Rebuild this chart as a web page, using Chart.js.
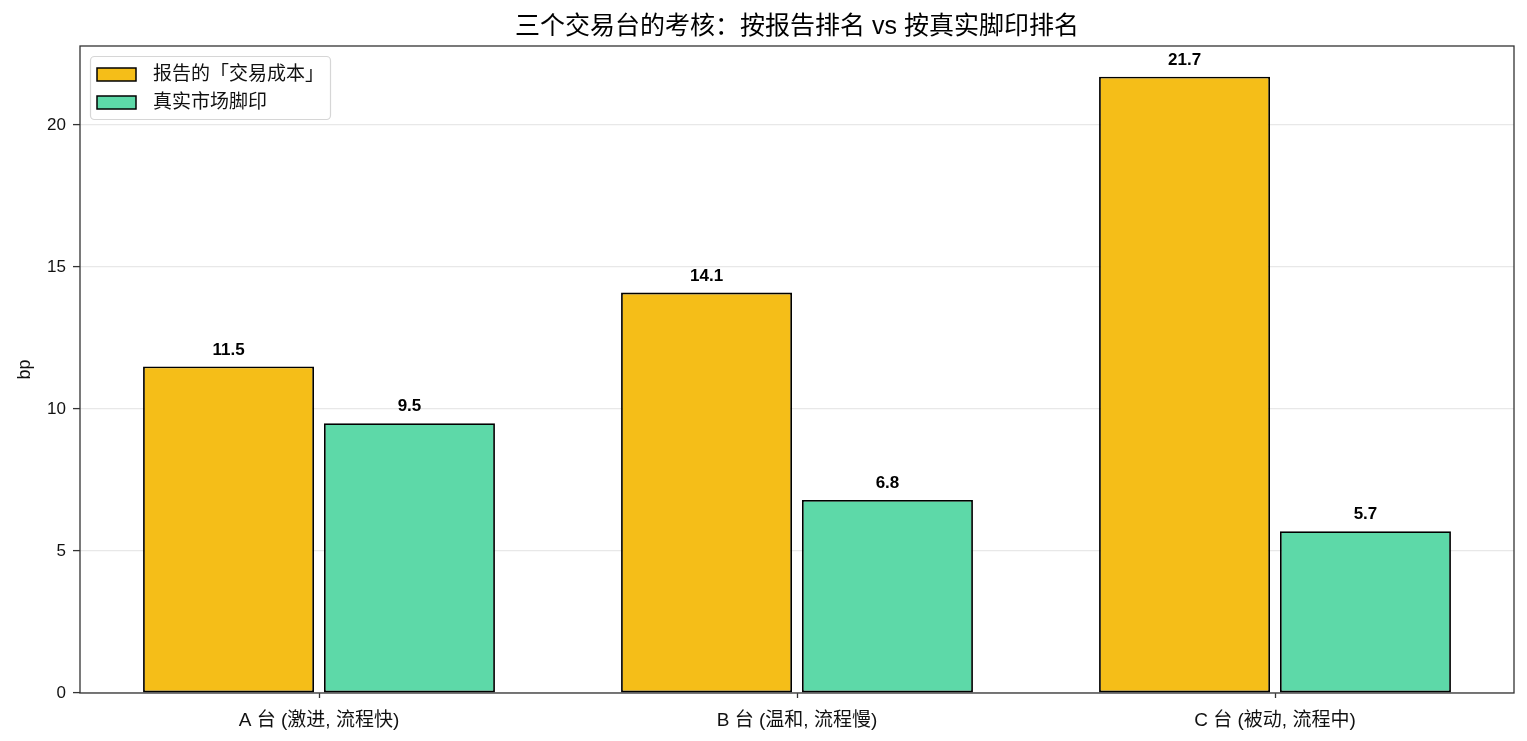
<!DOCTYPE html>
<html>
<head>
<meta charset="utf-8">
<script src="https://cdn.jsdelivr.net/npm/chart.js@4/dist/chart.umd.min.js"></script>
<style>
  body { margin: 0; background: #fff; }
  canvas { display: block; }
</style>
</head>
<body>
<canvas id="deskChart" width="1527" height="741"></canvas>
<script>
const categories = ["A 台 (激进, 流程快)", "B 台 (温和, 流程慢)", "C 台 (被动, 流程中)"];
const reportedCost = [11.5, 14.1, 21.7];
const realFootprint = [9.5, 6.8, 5.7];
const seriesNames = ["报告的「交易成本」", "真实市场脚印"];
const yTicks = [0, 5, 10, 15, 20];
const yMax = 22.785;

const FONT = '"Liberation Sans", "Noto Sans CJK SC", sans-serif';

// title, frame, value labels, y title and legend drawn by hand
const extras = {
  id: "extras",
  afterDatasetsDraw(chart) {
    const ctx = chart.ctx;
    const a = chart.chartArea;
    ctx.save();

    // value labels
    ctx.fillStyle = "#000";
    ctx.font = "bold 17px " + FONT;
    ctx.textAlign = "center";
    ctx.textBaseline = "bottom";
    chart.data.datasets.forEach((ds, i) => {
      chart.getDatasetMeta(i).data.forEach((bar, j) => {
        ctx.fillText(ds.data[j].toFixed(1), bar.x, bar.y - 8);
      });
    });

    // frame
    ctx.strokeStyle = "#333";
    ctx.lineWidth = 1.3;
    ctx.strokeRect(a.left, a.top, a.right - a.left, a.bottom - a.top);

    // title
    ctx.font = "25px " + FONT;
    ctx.textBaseline = "middle";
    ctx.fillStyle = "#000";
    ctx.fillText("三个交易台的考核：按报告排名 vs 按真实脚印排名", (a.left + a.right) / 2, 27);

    // y axis title
    ctx.save();
    ctx.translate(25, (a.top + a.bottom) / 2);
    ctx.rotate(-Math.PI / 2);
    ctx.font = "18px " + FONT;
    ctx.fillStyle = "#111";
    ctx.fillText("bp", 0, 0);
    ctx.restore();

    // legend
    const lx = a.left + 10, ly = a.top + 10, lw = 240, lh = 63;
    ctx.fillStyle = "rgba(255,255,255,0.85)";
    ctx.strokeStyle = "#d6d6d6";
    ctx.lineWidth = 1.2;
    ctx.beginPath();
    ctx.roundRect(lx + 0.5, ly + 0.5, lw, lh, 4);
    ctx.fill();
    ctx.stroke();
    ctx.font = "19px " + FONT;
    ctx.textAlign = "left";
    chart.data.datasets.forEach((ds, i) => {
      const y = ly + 18 + i * 28;
      ctx.fillStyle = ds.backgroundColor;
      ctx.fillRect(lx + 7, y - 6, 39, 13);
      ctx.strokeStyle = "#000";
      ctx.lineWidth = 1.5;
      ctx.strokeRect(lx + 7, y - 6, 39, 13);
      ctx.fillStyle = "#111";
      ctx.fillText(ds.label, lx + 63, y + 1);
    });
    ctx.restore();
  }
};

const ctx = document.getElementById("deskChart").getContext("2d");
const chart = new Chart(ctx, {
  type: "bar",
  data: {
    labels: categories,
    datasets: [{
      label: seriesNames[0],
      data: reportedCost,
      backgroundColor: "#F5BE18",
      borderColor: "#000",
      borderWidth: 1.8,
      borderSkipped: false,
      categoryPercentage: 0.757,
      barPercentage: 0.945
    }, {
      label: seriesNames[1],
      data: realFootprint,
      backgroundColor: "#5DD9A8",
      borderColor: "#000",
      borderWidth: 1.8,
      borderSkipped: false,
      categoryPercentage: 0.757,
      barPercentage: 0.945
    }]
  },
  options: {
    responsive: false,
    animation: false,
    devicePixelRatio: 1,
    layout: { padding: { top: 46, right: 13, left: 0, bottom: 0 } },
    plugins: {
      legend: { display: false },
      title: { display: false },
      tooltip: { enabled: false }
    },
    scales: {
      x: {
        offset: true,
        border: { display: false },
        grid: { offset: false, drawOnChartArea: false, tickColor: "#333", tickLength: 5, tickWidth: 1.3 },
        ticks: { color: "#111", font: { family: FONT, size: 19 }, padding: 11, maxRotation: 0 },
        afterFit(s) { s.height = 48; }
      },
      y: {
        min: 0,
        max: yMax,
        border: { display: false },
        afterBuildTicks(s) { s.ticks = yTicks.map(v => ({ value: v })); },
        grid: { color: "#e8e8e8", lineWidth: 1.2, tickColor: "#333", tickLength: 7, tickWidth: 1.3 },
        ticks: { color: "#111", font: { family: FONT, size: 17 }, padding: 7 },
        afterFit(s) { s.width = 80; }
      }
    }
  },
  plugins: [extras]
});
</script>
</body>
</html>
